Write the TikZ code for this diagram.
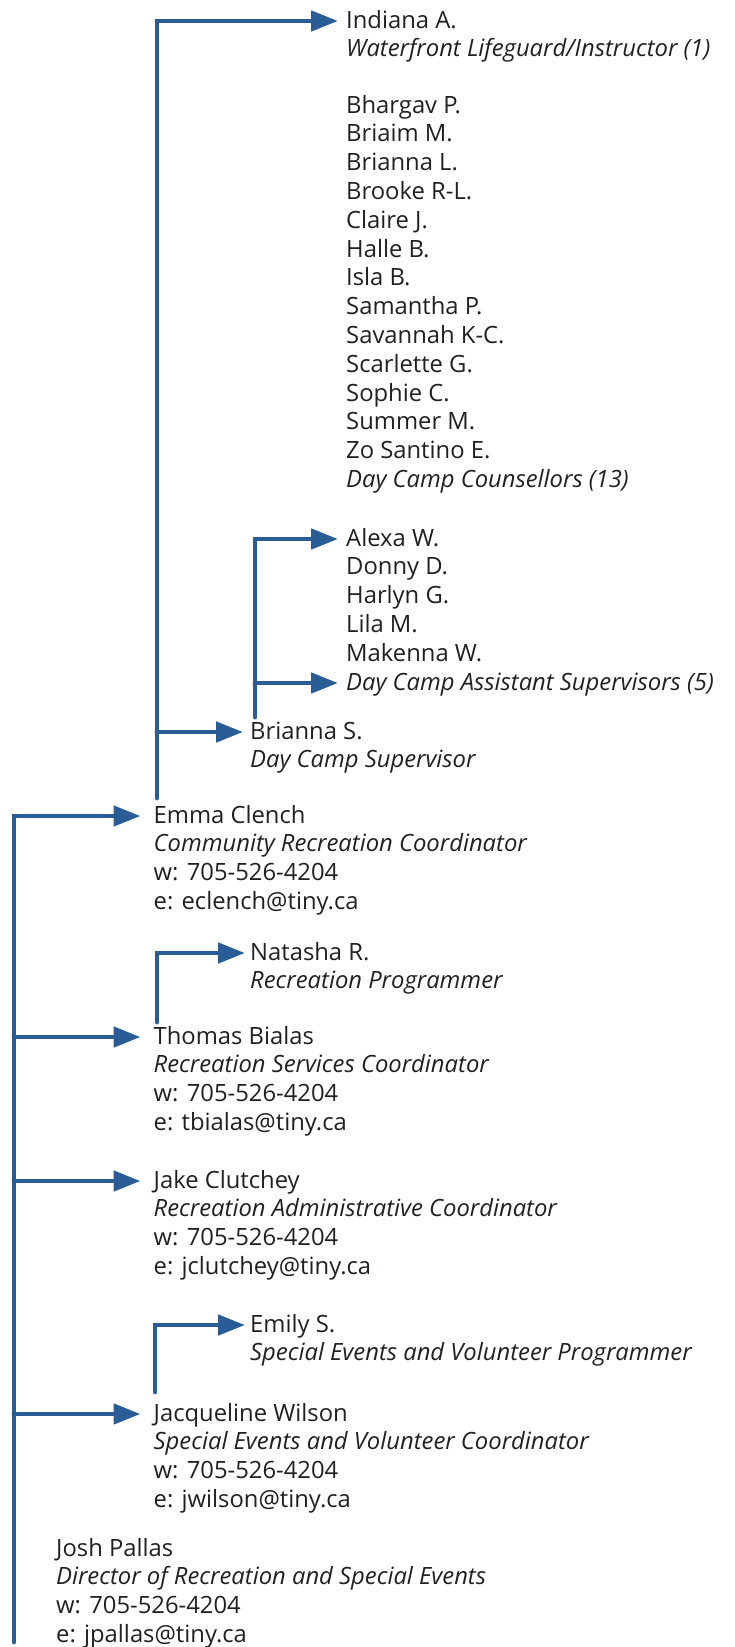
\documentclass[tikz,border=0pt]{standalone}
\usepackage{fontspec}
\setmainfont{Open Sans}
\usetikzlibrary{arrows.meta,calc}
\definecolor{lineblue}{HTML}{2A5D95}
\definecolor{txt}{HTML}{231F20}
\tikzset{
  conn/.style={draw=lineblue, line width=4.8pt, line cap=round},
  arr/.style={conn, -{Triangle[length=27pt,width=20pt]}},
  lbl/.style={anchor=base west, inner sep=0pt, align=left, text=txt,
    font=\fontsize{23.8}{28.8}\selectfont},
}
\begin{document}
\begin{tikzpicture}[x=1pt,y=1pt]
\useasboundingbox (0,0) rectangle (734,-1647);
% nodes (placed at the baseline of their last line)
\node[lbl] (indiana) at (346,-56.8) {Indiana A.\\\textit{Waterfront Lifeguard/Instructor (1)}};
\node[lbl] (counsellors) at (346,-487.4) {Bhargav P.\\Briaim M.\\Brianna L.\\Brooke R-L.\\Claire J.\\Halle B.\\Isla B.\\Samantha P.\\Savannah K-C.\\Scarlette G.\\Sophie C.\\Summer M.\\Zo Santino E.\\\textit{Day Camp Counsellors (13)}};
\node[lbl] (alexa) at (346,-690) {Alexa W.\\Donny D.\\Harlyn G.\\Lila M.\\Makenna W.\\\textit{Day Camp Assistant Supervisors (5)}};
\node[lbl] (briannas) at (250,-767.8) {Brianna S.\\\textit{Day Camp Supervisor}};
\node[lbl] (emma) at (153.5,-909.4) {Emma Clench\\\textit{Community Recreation Coordinator}\\w: 705-526-4204\\e: eclench@tiny.ca};
\node[lbl] (natasha) at (250,-988.8) {Natasha R.\\\textit{Recreation Programmer}};
\node[lbl] (thomas) at (153.5,-1130.4) {Thomas Bialas\\\textit{Recreation Services Coordinator}\\w: 705-526-4204\\e: tbialas@tiny.ca};
\node[lbl] (jake) at (153.5,-1274.4) {Jake Clutchey\\\textit{Recreation Administrative Coordinator}\\w: 705-526-4204\\e: jclutchey@tiny.ca};
\node[lbl] (emily) at (250,-1360.8) {Emily S.\\\textit{Special Events and Volunteer Programmer}};
\node[lbl] (jacqueline) at (153.5,-1507.4) {Jacqueline Wilson\\\textit{Special Events and Volunteer Coordinator}\\w: 705-526-4204\\e: jwilson@tiny.ca};
\node[lbl] (josh) at (56,-1642.4) {Josh Pallas\\\textit{Director of Recreation and Special Events}\\w: 705-526-4204\\e: jpallas@tiny.ca};
% arrow tips
\coordinate (tIndiana) at ([shift={(-8pt,35.8pt)}]indiana.base west);
\coordinate (tAlexa) at ([shift={(-8pt,151pt)}]alexa.base west);
\coordinate (tAsst) at ([shift={(-8pt,7pt)}]alexa.base west);
\coordinate (tBriannaS) at ([shift={(-7pt,35.8pt)}]briannas.base west);
\coordinate (tEmma) at ([shift={(-13pt,93.4pt)}]emma.base west);
\coordinate (tNatasha) at ([shift={(-5pt,35.8pt)}]natasha.base west);
\coordinate (tThomas) at ([shift={(-13pt,93.4pt)}]thomas.base west);
\coordinate (tJake) at ([shift={(-13pt,93.4pt)}]jake.base west);
\coordinate (tEmily) at ([shift={(-5pt,35.8pt)}]emily.base west);
\coordinate (tJacqueline) at ([shift={(-13pt,93.4pt)}]jacqueline.base west);
% roots
\coordinate (jroot) at (14,-1642);
\coordinate (eroot) at (157,-798);
\coordinate (broot) at (255,-717);
\coordinate (troot) at (157,-1022);
\coordinate (jqroot) at (155,-1392);
% connectors
\draw[arr] (jroot) |- (tEmma);
\draw[arr] (jroot |- tThomas) -- (tThomas);
\draw[arr] (jroot |- tJake) -- (tJake);
\draw[arr] (jroot |- tJacqueline) -- (tJacqueline);
\draw[arr] (eroot) |- (tIndiana);
\draw[arr] (eroot |- tBriannaS) -- (tBriannaS);
\draw[arr] (broot) |- (tAlexa);
\draw[arr] (broot |- tAsst) -- (tAsst);
\draw[arr] (troot) |- (tNatasha);
\draw[arr] (jqroot) |- (tEmily);
\end{tikzpicture}
\end{document}
